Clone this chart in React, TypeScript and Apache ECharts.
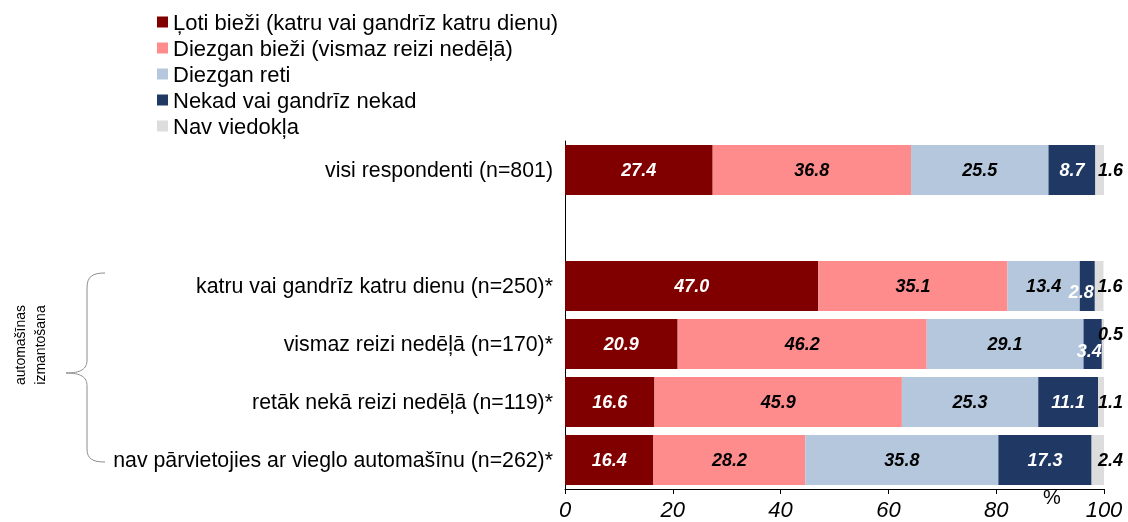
import React, { useEffect, useRef } from "react";
import * as echarts from "echarts";

const categories = [
  "visi respondenti (n=801)",
  "",
  "katru vai gandrīz katru dienu (n=250)*",
  "vismaz reizi nedēļā (n=170)*",
  "retāk nekā reizi nedēļā (n=119)*",
  "nav pārvietojies ar vieglo automašīnu (n=262)*",
];

const seriesNames = [
  "Ļoti bieži (katru vai gandrīz katru dienu)",
  "Diezgan bieži (vismaz reizi nedēļā)",
  "Diezgan reti",
  "Nekad vai gandrīz nekad",
  "Nav viedokļa",
];

const lotiBiezi = [27.4, null, 47.0, 20.9, 16.6, 16.4];
const diezganBiezi = [36.8, null, 35.1, 46.2, 45.9, 28.2];
const diezganReti = [25.5, null, 13.4, 29.1, 25.3, 35.8];
const nekad = [8.7, null, 2.8, 3.4, 11.1, 17.3];
const navViedokla = [1.6, null, 1.6, 0.5, 1.1, 2.4];

const xTicks = [0, 20, 40, 60, 80, 100];

const colors = ["#800000", "#FF8C8C", "#B4C7DC", "#1F3864", "#DDDDDD"];
const labelColors = ["#ffffff", "#000000", "#000000", "#ffffff", "#000000"];

const FONT = "'Liberation Sans', Arial, sans-serif";

const bracePath =
  "M105,273 C93,273 87,276 87,288 L87,360 C87,369 81,373 66,373 C81,373 87,377 87,386 L87,449 C87,459 93,462 105,462";

export default function App() {
  const ref = useRef<HTMLDivElement>(null);

  useEffect(() => {
    if (!ref.current) return;
    echarts.graphic.registerShape("brace", echarts.graphic.extendPath(bracePath, {}));
    const chart = echarts.init(ref.current, null, { renderer: "svg" });

    const allData = [lotiBiezi, diezganBiezi, diezganReti, nekad, navViedokla];

    const series = allData.map((arr, si) => ({
      name: seriesNames[si],
      type: "bar",
      stack: "total",
      barWidth: 50,
      itemStyle: { color: colors[si] },
      label: {
        show: true,
        position: si === 4 ? "right" : "inside",
        distance: si === 4 ? -6 : 5,
        color: labelColors[si],
        fontFamily: FONT,
        fontSize: 18,
        fontWeight: "bold",
        fontStyle: "italic",
        formatter: (p: any) => (p.value == null ? "" : Number(p.value).toFixed(1)),
      },
      data: arr.map((v, i) => {
        if (v == null) return "-";
        if (si === 3 && (i === 2 || i === 3)) {
          return {
            value: v,
            label: {
              position: "insideRight",
              distance: i === 2 ? 1 : 0,
              offset: [0, i === 2 ? 6 : 7],
            },
          };
        }
        if (si === 4 && i === 3) {
          return { value: v, label: { offset: [0, -10] } };
        }
        return v;
      }),
    }));

    chart.setOption({
      animation: false,
      textStyle: { fontFamily: FONT },
      legend: {
        orient: "vertical",
        left: 152,
        top: 6,
        itemWidth: 11,
        itemHeight: 11,
        itemGap: 4,
        icon: "rect",
        textStyle: { fontSize: 22, color: "#000", fontFamily: FONT, lineHeight: 22 },
        data: seriesNames,
      },
      grid: { left: 565, right: 24, top: 141, bottom: 33, containLabel: false },
      xAxis: {
        type: "value",
        min: xTicks[0],
        max: xTicks[xTicks.length - 1],
        interval: 20,
        splitLine: { show: false },
        axisLine: { show: true, lineStyle: { color: "#000", width: 1 } },
        axisTick: { show: true, length: 5, lineStyle: { color: "#000" } },
        axisLabel: {
          fontSize: 22,
          fontStyle: "italic",
          color: "#000",
          fontFamily: FONT,
          margin: 9,
        },
      },
      yAxis: {
        type: "category",
        inverse: true,
        data: categories,
        axisLine: { show: true, lineStyle: { color: "#000", width: 1 } },
        axisTick: { show: false },
        axisLabel: { fontSize: 21.3, color: "#000", fontFamily: FONT, margin: 12 },
      },
      graphic: [
        {
          type: "brace",
          x: 0,
          y: 0,
          style: { fill: "none", stroke: "#8c8c8c", lineWidth: 1 },
        },
        {
          type: "text",
          x: 30,
          y: 345,
          rotation: Math.PI / 2,
          style: {
            text: "automašīnas\nizmantošana",
            fontSize: 14,
            lineHeight: 20,
            fontFamily: FONT,
            fill: "#000",
            align: "center",
            verticalAlign: "middle",
          },
        },
        {
          type: "text",
          x: 1052,
          y: 497,
          style: {
            text: "%",
            fontSize: 20,
            fontFamily: FONT,
            fill: "#000",
            align: "center",
            verticalAlign: "middle",
          },
        },
      ],
      series,
    });

    return () => chart.dispose();
  }, []);

  return (
    <div
      ref={ref}
      style={{ position: "fixed", left: 0, top: 0, width: 1128, height: 522 }}
    />
  );
}
